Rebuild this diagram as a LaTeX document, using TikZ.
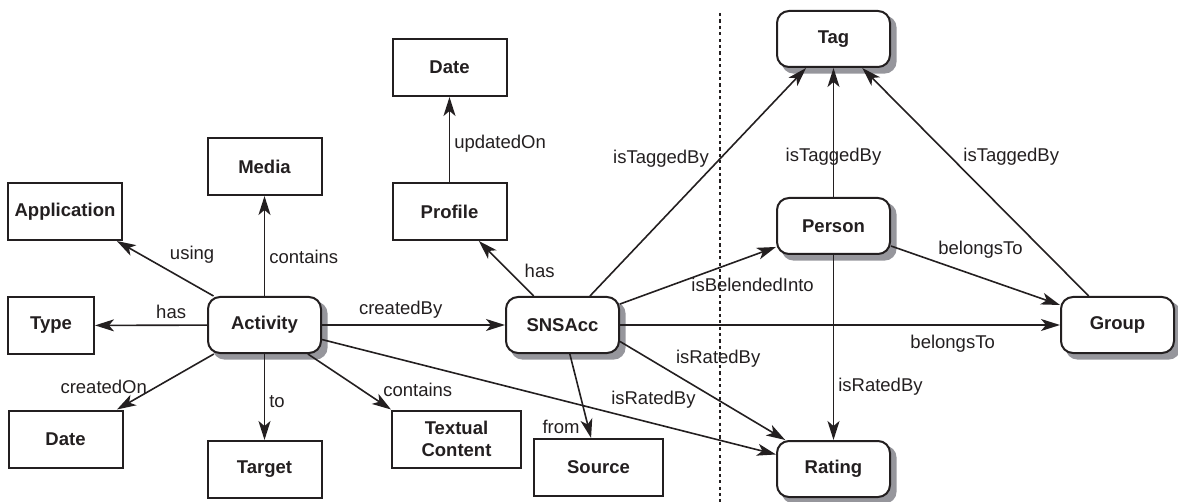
\documentclass[tikz,border=0pt]{standalone}
\usepackage{fontspec}
\setmainfont{Liberation Sans}
\usepackage{tikz}
\usetikzlibrary{positioning}
\usetikzlibrary{arrows.meta}
\usetikzlibrary{backgrounds}

\definecolor{ink}{RGB}{35,31,32}
\definecolor{shadowgray}{RGB}{150,150,156}

\tikzset{
    plain/.style={draw=ink, line width=1pt, fill=white, text=ink, align=center,
        minimum width=57pt, minimum height=28.5pt, inner sep=1pt,
        font=\fontsize{9.25}{11}\selectfont\bfseries},
    wide/.style={plain, minimum width=64.5pt},
    klass/.style={plain, rounded corners=6pt, minimum width=56.5pt, minimum height=28pt},
    shadowbox/.style={fill=shadowgray, rounded corners=6pt},
    rel/.style={draw=ink, line width=0.8pt, -{Stealth[length=9.5pt, width=6pt, inset=2.5pt]}},
    lbl/.style={text=ink, inner sep=2pt, font=\fontsize{9.25}{11}\selectfont},
    sep/.style={draw=ink, line width=0.8pt, dash pattern=on 1.6pt off 1.6pt},
}

\begin{document}
\begin{tikzpicture}[x=0.5pt, y=-0.5pt]
    \useasboundingbox (0,0) rectangle (1178,502);

        \coordinate (septop) at (720,13);
        \coordinate (sepbot) at (720,502);
        \draw[sep] (septop) -- (sepbot);

        \node[klass] (act) at (264.5,325) {Activity};
        \node[klass] (sns) at (562.5,325) {SNSAcc};
        \node[klass] (person) at (833.5,226) {Person};
        \node[klass, above=64.5pt of person] (tag) {Tag};
        \node[klass, below=92.5pt of person] (rating) {Rating};
        \node[klass] (group) at (1117.5,325) {Group};

        \node[plain] (app) at (65,211.5) {Application};
        \node[plain, above=50pt of act] (media) {Media};
        \node[plain, minimum width=43pt] (type) at (51,325.5) {Type};
        \node[plain] (dateact) at (65.5,439) {Date};
        \node[plain, below=43pt of act] (target) {Target};
        \node[wide] (text) at (456.5,439) {Textual\\Content};
        \node[plain] (profile) at (449.5,211.5) {Profile};
        \node[plain, above=42.5pt of profile] (dateprof) {Date};
        \node[wide] (source) at (598.5,467.5) {Source};

        % shadows of the rounded boxes
        \begin{scope}[on background layer]
            \foreach \n in {act, sns, person, tag, rating, group}
                \fill[shadowbox] ([xshift=2.8pt, yshift=-2.8pt]\n.south west) rectangle ([xshift=2.8pt, yshift=-2.8pt]\n.north east);
        \end{scope}

        % activity
        \draw[rel] (act) -- node[lbl, pos=0.5, anchor=south west] {using} (app);
        \draw[rel] (act) -- node[lbl, pos=0.39, anchor=west] {contains} (media);
        \draw[rel] (act) -- node[lbl, pos=0.32, above=1pt] {has} (type);
        \draw[rel] (act) -- node[lbl, pos=0.6, left=2pt] {createdOn} (dateact);
        \draw[rel] (act) -- node[lbl, pos=0.55, anchor=west] {to} (target);
        \draw[rel] (act) -- node[lbl, pos=0.85, anchor=south west] {contains} (text.north west);
        \draw[rel] (act) -- node[lbl, pos=0.43, above=1pt] {createdBy} (sns);
        \draw[rel] (act) -- node[lbl, pos=0.73, above=5pt] {isRatedBy} (rating);

        % account
        \draw[rel] (sns) -- node[lbl, pos=0.25, anchor=south west] {has} (profile);
        \draw[rel] (profile) -- node[lbl, pos=0.45, anchor=west] {updatedOn} (dateprof);
        \draw[rel] (sns) -- node[lbl, pos=0.6, left=3pt] {isTaggedBy} (tag);
        \draw[rel] (sns) -- node[lbl, pos=0.85, below=9pt] {isBelendedInto} (person);
        \draw[rel] (sns) -- node[lbl, pos=0.756, below=2.7pt] {belongsTo} (group);
        \draw[rel] (sns.-16.5) -- node[lbl, pos=0.31, anchor=south west] {isRatedBy} (rating.149.6);
        \draw[rel] (sns) -- node[lbl, pos=0.87, left=2pt] {from} (source);

        % person and group
        \draw[rel] (person) -- node[lbl, pos=0.31] {isTaggedBy} (tag);
        \draw[rel] (group) -- node[lbl, pos=0.61, right=4pt] {isTaggedBy} (tag);
        \draw[rel] (person) -- node[lbl, pos=0.53, above=7pt] {belongsTo} (group);
        \draw[rel] (person) -- node[lbl, pos=0.71, anchor=west] {isRatedBy} (rating);

\end{tikzpicture}
\end{document}
